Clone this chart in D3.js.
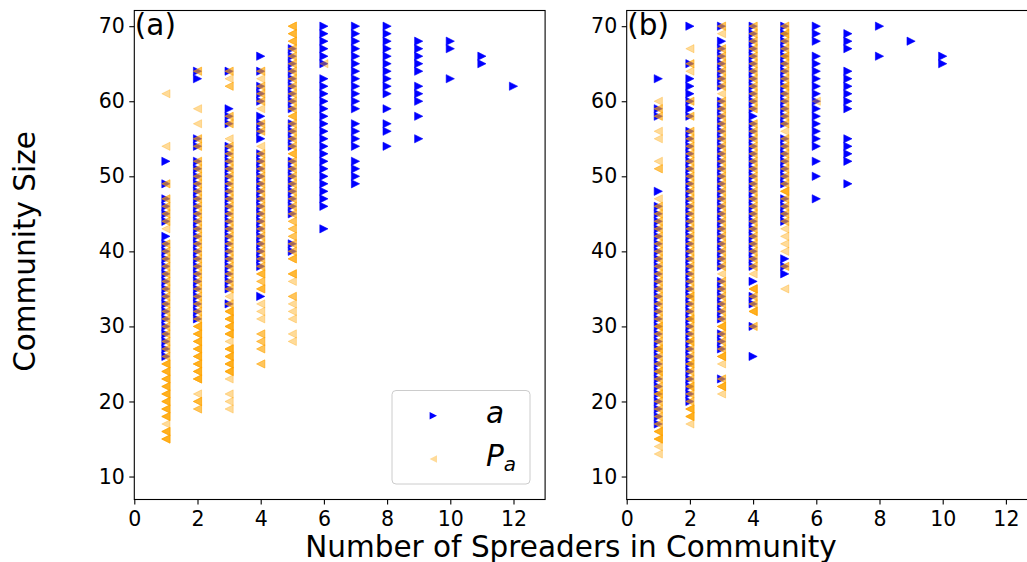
<!DOCTYPE html>
<html><head><meta charset="utf-8">
<script src="https://cdn.jsdelivr.net/npm/d3@7"></script>
<style>
body{margin:0;background:#fff}
svg{display:block}
text{font-family:"DejaVu Sans",sans-serif;fill:#000}
</style>
</head><body>
<svg id="c" width="1027" height="562"></svg>
<script>
// ---------- tick labels / categories ----------
const xTicks = [0,2,4,6,8,10,12];
const yTicks = [10,20,30,40,50,60,70];
const spreaderCounts = [1,2,3,4,5,6,7,8,9,10,11,12];

// ---------- panel (a): series "a" (community sizes per spreader count) ----------
const aSeriesA = [
  [52,49,47,46,45,44,42,41,40,39,38,37,36,35,34,33,32,31,30,29,28,27,26],
  [64,63,55,54,52,51,50,49,48,47,46,45,44,43,42,41,40,39,38,37,36,35,34,33,32,31],
  [64,59,58,57,54,53,52,51,50,49,48,47,46,45,44,43,42,41,40,39,38,37,36,35,33],
  [66,64,62,61,60,58,57,56,55,53,52,51,50,49,48,47,46,45,44,43,42,41,40,39,38,34],
  [67,66,65,64,63,62,61,60,59,57,56,55,54,52,51,50,49,48,47,46,45,41,40],
  [70,69,68,67,66,65,63,62,61,60,59,58,57,56,55,54,53,52,51,50,49,48,47,46,43],
  [70,69,68,67,66,65,64,63,62,61,60,59,57,56,55,54,52,51,50,49],
  [70,69,68,67,66,65,64,63,62,61,59,57,56,54],
  [68,67,66,65,64,62,61,60,58,55],
  [68,67,63],
  [66,65],
  [62]
];
// ---------- panel (a): series "P_a" as [community size, number of overlapping points] ----------
const paSeriesA = [
  [[61,1],[54,1],[49,2],[47,2],[46,2],[45,2],[44,2],[43,1],[41,2],[40,2],[39,2],[38,2],[37,2],[36,2],[35,2],[34,2],[33,2],[32,2],[31,2],[30,2],[29,2],[28,2],[27,2],[26,2],[25,4],[24,4],[23,4],[22,4],[21,4],[20,4],[19,4],[18,4],[17,1],[16,4],[15,4]],
  [[64,2],[59,1],[57,1],[55,2],[54,2],[52,2],[51,2],[50,2],[49,2],[48,2],[47,2],[46,2],[45,2],[44,2],[43,2],[42,2],[41,2],[40,2],[39,2],[38,2],[37,2],[36,2],[35,2],[34,2],[33,2],[32,2],[31,2],[30,4],[29,4],[28,4],[27,4],[26,4],[25,4],[24,4],[23,4],[21,1],[20,3],[19,2]],
  [[64,2],[63,1],[62,2],[58,2],[57,2],[55,1],[54,2],[53,2],[52,2],[51,2],[50,2],[49,2],[48,2],[47,2],[46,2],[45,2],[44,2],[43,2],[42,2],[41,2],[40,2],[39,2],[38,2],[37,2],[36,2],[35,2],[34,1],[33,2],[32,4],[31,4],[30,4],[29,4],[28,1],[27,4],[26,4],[25,4],[24,4],[23,1],[21,1],[20,1],[19,1]],
  [[64,2],[63,1],[62,2],[61,2],[60,2],[59,1],[57,2],[56,2],[54,1],[53,2],[52,2],[51,2],[50,2],[49,2],[48,2],[47,2],[46,2],[45,2],[44,2],[43,2],[42,2],[41,2],[40,2],[39,2],[38,2],[37,3],[36,2],[35,3],[33,1],[32,1],[31,1],[29,2],[28,2],[27,2],[25,2]],
  [[70,3],[69,3],[68,3],[67,2],[66,2],[65,2],[64,2],[63,2],[62,2],[61,2],[60,2],[59,2],[58,3],[57,2],[56,2],[55,2],[54,2],[53,3],[52,2],[51,2],[50,2],[49,2],[48,2],[47,2],[46,2],[45,2],[44,2],[43,2],[42,2],[41,2],[40,2],[39,3],[37,3],[36,1],[34,2],[33,1],[32,1],[31,1],[29,1],[28,1]],
  [[65,1]],
  [],[],[],[],[],[]
];

// ---------- panel (b): series "a" ----------
const aSeriesB = [
  [63,59,58,48,46,45,44,43,42,41,40,39,38,37,36,35,34,33,32,31,30,29,28,27,26,25,24,23,22,21,20,19,18,17],
  [70,65,63,62,61,60,59,58,56,55,54,53,52,51,50,49,48,47,46,45,44,43,42,41,40,39,38,37,36,35,34,33,32,31,30,29,28,27,26,25,24,23,22,21,20],
  [70,68,67,66,65,64,63,62,60,59,58,57,56,55,54,53,52,51,50,49,48,47,46,45,44,43,42,41,40,39,38,36,35,34,33,32,31,29,28,27,23],
  [70,69,68,67,66,65,64,63,62,61,60,59,58,57,56,55,54,53,52,51,50,49,48,47,46,45,44,43,42,41,40,39,38,36,34,33,30,26],
  [70,69,68,67,66,65,64,63,62,61,60,59,58,57,55,54,53,52,51,50,49,47,46,45,44,39,38,37],
  [70,69,68,66,65,64,63,62,61,60,59,58,57,56,55,54,52,50,47],
  [69,68,67,64,63,62,61,60,59,55,54,53,52,49],
  [70,66],
  [68],
  [66,65]
];
// ---------- panel (b): series "P_a" ----------
const paSeriesB = [
  [[60,1],[59,2],[58,2],[56,1],[55,1],[52,1],[51,2],[47,1],[46,2],[45,2],[44,2],[43,2],[42,2],[41,2],[40,2],[39,2],[38,2],[37,2],[36,2],[35,2],[34,2],[33,2],[32,2],[31,2],[30,3],[29,2],[28,2],[27,3],[26,2],[25,2],[24,3],[23,2],[22,2],[21,3],[20,2],[19,2],[18,2],[17,2],[16,4],[15,4],[14,1],[13,1]],
  [[67,1],[65,2],[64,1],[60,2],[58,2],[56,2],[55,2],[54,2],[53,2],[52,2],[51,2],[50,2],[49,2],[48,2],[47,2],[46,2],[45,2],[44,2],[43,2],[42,2],[41,2],[40,2],[39,2],[38,2],[37,2],[36,2],[35,2],[34,3],[33,2],[32,2],[31,3],[30,2],[29,2],[28,3],[27,2],[26,2],[25,3],[24,2],[23,2],[22,3],[21,2],[20,2],[19,4],[18,4],[17,1]],
  [[70,2],[69,1],[67,2],[66,2],[65,2],[64,2],[63,2],[62,2],[61,1],[60,2],[59,2],[58,2],[57,2],[56,2],[55,2],[54,2],[53,2],[52,2],[51,2],[50,2],[49,2],[48,2],[47,2],[46,2],[45,2],[44,2],[43,2],[42,2],[41,2],[40,2],[39,2],[38,2],[37,1],[36,2],[35,2],[34,2],[33,2],[32,2],[31,2],[30,4],[29,2],[28,2],[27,2],[26,4],[25,1],[23,2],[22,4],[21,1]],
  [[70,2],[69,2],[68,2],[67,2],[66,2],[65,2],[64,2],[63,2],[62,2],[61,2],[60,2],[59,2],[57,2],[56,2],[55,2],[54,2],[53,2],[52,2],[51,2],[50,2],[49,2],[48,2],[47,2],[46,2],[45,2],[44,2],[43,2],[42,2],[41,2],[40,2],[39,2],[38,2],[37,1],[35,4],[34,2],[33,2],[32,4],[30,2]],
  [[70,2],[69,3],[68,2],[67,2],[66,3],[65,2],[64,2],[63,2],[62,3],[61,2],[60,2],[59,2],[58,2],[57,2],[56,1],[55,2],[54,2],[53,2],[52,2],[51,2],[50,2],[49,2],[48,4],[47,2],[46,2],[45,2],[44,2],[43,1],[42,1],[41,1],[40,1],[38,2],[35,1]],
  [[60,1]],
  [],[],[],[]
];

// ---------- legend labels ----------
const seriesNames = ["a", "P"];
const seriesSub = ["", "a"];

// ---------- drawing ----------
const svg = d3.select("#c");
const BLUE = "#0000ff", ORANGE = "#ffa500", OR_ALPHA = 0.4;
const triR = "M4.1,0L-4.1,-4.1L-4.1,4.1Z";
const triL = "M-4.1,0L4.1,-4.1L4.1,4.1Z";
const W = 410.8, TOP = 10.5, BOTTOM = 499.5;
const BIG = 29.5, TICK = 20.5;

function drawPanel(left, blue, orange, tag) {
  const x = d3.scaleLinear().domain([0, 13]).range([left, left + W]);
  const y = d3.scaleLinear().domain([6.94, 72.09]).range([BOTTOM, TOP]);
  const clipId = "clip" + tag.replace(/\W/g, "");
  svg.append("clipPath").attr("id", clipId).append("rect")
    .attr("x", left).attr("y", TOP).attr("width", W).attr("height", BOTTOM - TOP);
  const pts = svg.append("g").attr("clip-path", `url(#${clipId})`);

  const bluePts = blue.flatMap((ys, i) => ys.map(v => ({s: spreaderCounts[i], v})));
  pts.append("g").selectAll("path").data(bluePts).join("path")
    .attr("d", triR).attr("fill", BLUE).attr("stroke", BLUE).attr("stroke-width", 0.6)
    .attr("transform", d => `translate(${x(d.s)},${y(d.v)})`);

  const orPts = orange.flatMap((col, i) => col.flatMap(([v, n]) => d3.range(n).map(() => ({s: spreaderCounts[i], v}))));
  pts.append("g").selectAll("path").data(orPts).join("path")
    .attr("d", triL).attr("fill", ORANGE).attr("fill-opacity", OR_ALPHA)
    .attr("stroke", ORANGE).attr("stroke-opacity", OR_ALPHA).attr("stroke-width", 0.8)
    .attr("transform", d => `translate(${x(d.s)},${y(d.v)})`);

  // axes
  const gx = svg.append("g").attr("transform", `translate(0,${BOTTOM})`)
    .call(d3.axisBottom(x).tickValues(xTicks).tickFormat(d3.format("d")).tickSize(5).tickPadding(7));
  const gy = svg.append("g").attr("transform", `translate(${left},0)`)
    .call(d3.axisLeft(y).tickValues(yTicks).tickFormat(d3.format("d")).tickSize(5).tickPadding(4.5));
  [gx, gy].forEach(g => {
    g.select(".domain").remove();
    g.selectAll(".tick line").attr("stroke", "#000").attr("stroke-width", 1.1);
    g.selectAll(".tick text").attr("font-size", TICK).attr("font-family", "DejaVu Sans").attr("fill", "#000");
  });
  // spines
  svg.append("rect").attr("x", left).attr("y", TOP).attr("width", W).attr("height", BOTTOM - TOP)
    .attr("fill", "none").attr("stroke", "#000").attr("stroke-width", 1.1);
  // panel tag
  svg.append("text").attr("x", left + 0.5).attr("y", 34.5).attr("font-size", BIG).text(tag);
}

drawPanel(134.3, aSeriesA, paSeriesA, "(a)");
drawPanel(626.7, aSeriesB, paSeriesB, "(b)");

// axis titles
svg.append("text").attr("transform", "translate(35,251.5) rotate(-90)")
  .attr("text-anchor", "middle").attr("font-size", BIG).text("Community Size");
svg.append("text").attr("x", 571).attr("y", 556.5)
  .attr("text-anchor", "middle").attr("font-size", BIG).text("Number of Spreaders in Community");

// legend
const lg = svg.append("g");
lg.append("rect").attr("x", 392).attr("y", 390.5).attr("width", 138).attr("height", 93.5)
  .attr("rx", 4).attr("fill", "#fff").attr("fill-opacity", 0.8).attr("stroke", "#cccccc").attr("stroke-width", 1);
const legY = [415.7, 459];
lg.append("path").attr("d", triR).attr("fill", BLUE).attr("transform", `translate(433.3,${legY[0]}) scale(0.9)`);
lg.append("path").attr("d", triL).attr("fill", ORANGE).attr("fill-opacity", OR_ALPHA).attr("transform", `translate(433.3,${legY[1]}) scale(0.9)`);
seriesNames.forEach((nm, i) => {
  const t = lg.append("text").attr("x", 486).attr("y", legY[i] + 7).attr("font-size", BIG).attr("font-style", "italic");
  t.append("tspan").text(nm);
  if (seriesSub[i]) t.append("tspan").attr("font-size", 20).attr("dy", 5).text(seriesSub[i]);
});
</script>
</body></html>
